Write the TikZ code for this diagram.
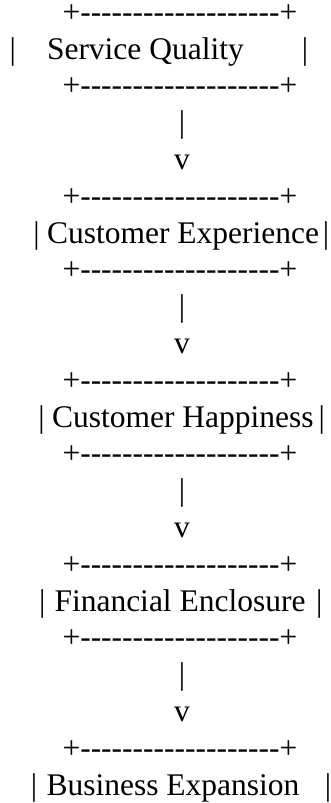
\documentclass[tikz,border=0pt]{standalone}
\usepackage{fontspec}
% plain hyphens: no TeX dash ligatures in the box edges
\setmainfont{Liberation Serif}[Ligatures=TeXOff]
\newcommand\boxedge{+-------------------+}
\begin{document}
\begin{tikzpicture}[x=1pt,y=1pt,
  glyph/.style={inner sep=0pt,outer sep=0pt,text=black,
    font=\fontsize{31.5}{36.8}\selectfont},
  edge/.style={glyph,anchor=base west,text height=17pt,text depth=0pt},
  label/.style={glyph,anchor=base west},
  bar/.style={glyph,anchor=base},
  link/.style={glyph,anchor=base}
]
\useasboundingbox (0,0) rectangle (330,-803);

% Service Quality
\node[edge]  (sqtop) at (62.5,-22.2) {\boxedge};
\node[bar]   (sql)   at (12.7,-59.0) {|};
\node[label] (sq)    at (47,-59.0) {Service Quality};
\node[bar]   (sqr)   at (305,-59.0) {|};
\node[edge]  (sqbot) at (62.5,-95.8) {\boxedge};
\node[link]  (a1)    at (182,-132.6) {|};
\node[link]  (v1)    at (182,-169.4) {v};

% Customer Experience
\node[edge]  (cetop) at (62.5,-206.2) {\boxedge};
\node[bar]   (cel)   at (36.5,-243.0) {|};
\node[label] (ce)    at (47,-243.0) {Customer Experience};
\node[bar]   (cer)   at (326,-243.0) {|};
\node[edge]  (cebot) at (62.5,-279.8) {\boxedge};
\node[link]  (a2)    at (182,-316.6) {|};
\node[link]  (v2)    at (182,-353.4) {v};

% Customer Happiness
\node[edge]  (chtop) at (62.5,-390.2) {\boxedge};
\node[bar]   (chl)   at (41.5,-427.0) {|};
\node[label] (ch)    at (52,-427.0) {Customer Happiness};
\node[bar]   (chr)   at (321.7,-427.0) {|};
\node[edge]  (chbot) at (62.5,-463.8) {\boxedge};
\node[link]  (a3)    at (182,-500.6) {|};
\node[link]  (v3)    at (182,-537.4) {v};

% Financial Enclosure
\node[edge]  (fetop) at (62.5,-574.2) {\boxedge};
\node[bar]   (fel)   at (42.4,-611.0) {|};
\node[label] (fe)    at (54.5,-611.0) {Financial Enclosure};
\node[bar]   (fer)   at (319.3,-611.0) {|};
\node[edge]  (febot) at (62.5,-647.8) {\boxedge};
\node[link]  (a4)    at (182,-684.6) {|};
\node[link]  (v4)    at (182,-721.4) {v};

% Business Expansion
\node[edge]  (betop) at (62.5,-758.2) {\boxedge};
\node[bar]   (bel)   at (34,-795.0) {|};
\node[label] (be)    at (46.5,-795.0) {Business Expansion};
\node[bar]   (ber)   at (328,-795.0) {|};
\end{tikzpicture}
\end{document}
